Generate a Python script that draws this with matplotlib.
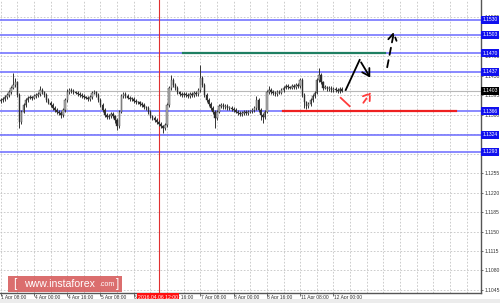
import matplotlib
matplotlib.use("Agg")
import matplotlib.pyplot as plt
from matplotlib.patches import FancyBboxPatch, Rectangle
import numpy as np

# ---------------- data ----------------
first_open = 1.1384
closes = [
    1.1386, 1.1388, 1.1391, 1.1395, 1.1400, 1.1408, 1.1413, 1.1418, 1.1395, 1.1347,
    1.1365, 1.1377, 1.1386, 1.1390, 1.1391, 1.1390, 1.1393, 1.1395, 1.1397, 1.1404,
    1.1400, 1.1395, 1.1386, 1.1381, 1.1377, 1.1372, 1.1368, 1.1365, 1.1363, 1.1359,
    1.1368, 1.1386, 1.1400, 1.1404, 1.1402, 1.1400, 1.1399, 1.1397, 1.1395, 1.1393,
    1.1391, 1.1390, 1.1388, 1.1391, 1.1399, 1.1400, 1.1395, 1.1386, 1.1377, 1.1368,
    1.1359, 1.1356, 1.1357, 1.1361, 1.1357, 1.1350, 1.1339, 1.1365, 1.1393, 1.1397,
    1.1393, 1.1390, 1.1388, 1.1388, 1.1384, 1.1382, 1.1382, 1.1379, 1.1377, 1.1373,
    1.1372, 1.1365, 1.1357, 1.1354, 1.1350, 1.1347, 1.1343, 1.1339, 1.1336, 1.1341,
    1.1377, 1.1408, 1.1422, 1.1413, 1.1408, 1.1400, 1.1397, 1.1395, 1.1397, 1.1395,
    1.1393, 1.1397, 1.1395, 1.1399, 1.1397, 1.1404, 1.1426, 1.1413, 1.1395, 1.1386,
    1.1379, 1.1372, 1.1365, 1.1354, 1.1365, 1.1375, 1.1377, 1.1373, 1.1375, 1.1372,
    1.1372, 1.1370, 1.1368, 1.1365, 1.1363, 1.1361, 1.1363, 1.1365, 1.1363, 1.1365,
    1.1366, 1.1368, 1.1372, 1.1386, 1.1368, 1.1359, 1.1356, 1.1365, 1.1400, 1.1404,
    1.1400, 1.1399, 1.1397, 1.1400, 1.1399, 1.1404, 1.1408, 1.1411, 1.1409, 1.1408,
    1.1411, 1.1409, 1.1413, 1.1411, 1.1422, 1.1395, 1.1382, 1.1375, 1.1379, 1.1386,
    1.1393, 1.1399, 1.1422, 1.1431, 1.1418, 1.1408, 1.1409, 1.1406, 1.1408, 1.1404,
    1.1406, 1.1404, 1.1402, 1.1406, 1.1403,
]
highs = [
    1.1390, 1.1392, 1.1395, 1.1399, 1.1404, 1.1412, 1.1434, 1.1425, 1.1421, 1.1398,
    1.1368, 1.1381, 1.1390, 1.1393, 1.1395, 1.1394, 1.1396, 1.1399, 1.1401, 1.1411,
    1.1407, 1.1403, 1.1398, 1.1389, 1.1384, 1.1380, 1.1375, 1.1371, 1.1368, 1.1366,
    1.1371, 1.1390, 1.1405, 1.1408, 1.1407, 1.1405, 1.1403, 1.1402, 1.1400, 1.1398,
    1.1396, 1.1394, 1.1393, 1.1395, 1.1403, 1.1404, 1.1403, 1.1398, 1.1389, 1.1380,
    1.1371, 1.1362, 1.1361, 1.1365, 1.1364, 1.1360, 1.1353, 1.1368, 1.1397, 1.1401,
    1.1400, 1.1396, 1.1393, 1.1391, 1.1391, 1.1387, 1.1385, 1.1385, 1.1382, 1.1380,
    1.1376, 1.1375, 1.1368, 1.1360, 1.1357, 1.1353, 1.1350, 1.1346, 1.1342, 1.1345,
    1.1381, 1.1412, 1.1431, 1.1425, 1.1416, 1.1411, 1.1403, 1.1400, 1.1401, 1.1400,
    1.1398, 1.1401, 1.1400, 1.1403, 1.1402, 1.1408, 1.1449, 1.1430, 1.1416, 1.1398,
    1.1389, 1.1382, 1.1375, 1.1368, 1.1369, 1.1379, 1.1381, 1.1380, 1.1379, 1.1378,
    1.1375, 1.1375, 1.1373, 1.1371, 1.1368, 1.1366, 1.1366, 1.1368, 1.1368, 1.1368,
    1.1369, 1.1371, 1.1376, 1.1393, 1.1389, 1.1371, 1.1362, 1.1369, 1.1404, 1.1411,
    1.1407, 1.1404, 1.1402, 1.1404, 1.1404, 1.1408, 1.1412, 1.1415, 1.1414, 1.1412,
    1.1415, 1.1414, 1.1417, 1.1416, 1.1426, 1.1425, 1.1398, 1.1385, 1.1383, 1.1390,
    1.1397, 1.1403, 1.1426, 1.1444, 1.1434, 1.1421, 1.1413, 1.1412, 1.1411, 1.1411,
    1.1409, 1.1409, 1.1407, 1.1409, 1.1409,
]
lows = [
    1.1381, 1.1383, 1.1385, 1.1388, 1.1392, 1.1397, 1.1405, 1.1409, 1.1391, 1.1336,
    1.1343, 1.1362, 1.1374, 1.1383, 1.1387, 1.1386, 1.1387, 1.1390, 1.1392, 1.1394,
    1.1397, 1.1392, 1.1383, 1.1378, 1.1374, 1.1368, 1.1364, 1.1361, 1.1359, 1.1354,
    1.1356, 1.1365, 1.1383, 1.1397, 1.1399, 1.1397, 1.1396, 1.1394, 1.1392, 1.1390,
    1.1388, 1.1387, 1.1385, 1.1385, 1.1388, 1.1396, 1.1392, 1.1383, 1.1373, 1.1364,
    1.1355, 1.1352, 1.1352, 1.1354, 1.1353, 1.1345, 1.1332, 1.1336, 1.1362, 1.1390,
    1.1390, 1.1387, 1.1385, 1.1385, 1.1381, 1.1379, 1.1379, 1.1376, 1.1374, 1.1370,
    1.1369, 1.1361, 1.1353, 1.1350, 1.1346, 1.1343, 1.1339, 1.1335, 1.1327, 1.1332,
    1.1338, 1.1374, 1.1404, 1.1409, 1.1404, 1.1396, 1.1393, 1.1391, 1.1392, 1.1392,
    1.1390, 1.1390, 1.1392, 1.1392, 1.1394, 1.1394, 1.1401, 1.1409, 1.1391, 1.1382,
    1.1375, 1.1368, 1.1361, 1.1336, 1.1350, 1.1362, 1.1372, 1.1370, 1.1370, 1.1369,
    1.1369, 1.1367, 1.1365, 1.1362, 1.1360, 1.1358, 1.1358, 1.1360, 1.1360, 1.1360,
    1.1362, 1.1363, 1.1365, 1.1369, 1.1364, 1.1350, 1.1345, 1.1352, 1.1362, 1.1397,
    1.1396, 1.1395, 1.1393, 1.1394, 1.1396, 1.1396, 1.1401, 1.1405, 1.1406, 1.1405,
    1.1405, 1.1406, 1.1406, 1.1408, 1.1408, 1.1391, 1.1372, 1.1370, 1.1372, 1.1376,
    1.1383, 1.1390, 1.1396, 1.1419, 1.1414, 1.1404, 1.1405, 1.1403, 1.1403, 1.1401,
    1.1401, 1.1401, 1.1399, 1.1399, 1.1400,
]
x_tick_pos = [0, 16, 32, 48, 64, 80, 96, 112, 128, 144, 160]
x_tick_labels = ["1 Apr 08:00", "4 Apr 00:00", "4 Apr 16:00", "5 Apr 08:00",
                 "6 Apr 00:00", "6 Apr 16:00", "7 Apr 08:00", "8 Apr 00:00",
                 "8 Apr 16:00", "11 Apr 08:00", "12 Apr 00:00"]
y_ticks = [1.1045, 1.1080, 1.1115, 1.1150, 1.1185, 1.1220, 1.1255, 1.1290,
           1.1325, 1.1360, 1.1395, 1.1430, 1.1465, 1.1500, 1.1535]
levels = [1.1530, 1.1503, 1.1470, 1.1437, 1.1366, 1.1324, 1.1293]
current_price = 1.1403
resistance = 1.1470          # green line
support = 1.1366             # red line
cursor_index = 76
cursor_label = "2016.04.06 12:00"
# forecast arrows (index, price)
black_path = [(165.9, 1.1404), (172.6, 1.1458), (178.4, 1.1422)]
black_dash = [(185.6, 1.1440), (189.4, 1.1514)]
red_seg = [(163.5, 1.1390), (167.8, 1.1375)]
red_dash = [(173.6, 1.1377), (178.8, 1.1404)]

# ---------------- figure ----------------
W, H = 500, 303
FONT = "Liberation Sans"
fig = plt.figure(figsize=(W / 100, H / 100), dpi=100)
fig.patch.set_facecolor("white")
fig.patches.append(Rectangle((0, 0), 1, 4 / H, transform=fig.transFigure,
                             facecolor="#ececec", edgecolor="none", zorder=0))
ax = fig.add_axes([0, 10 / H, 481 / W, 293 / H])
ax.set_facecolor("white")

n = len(closes)
xs = np.arange(n)
opens = [first_open] + closes[:-1]

ax.set_xlim(-0.3, 481 / 2.08 - 0.3)
ax.set_ylim(1.10396, 1.15656)

# grid
for yt in y_ticks:
    ax.axhline(yt, color="#c4c4c4", lw=0.6, ls=(0, (2, 2)), zorder=1)
for xv in range(0, 232, 8):
    ax.axvline(xv, color="#c4c4c4", lw=0.6, ls=(0, (2, 2)), zorder=1)

# level lines
for lv in levels:
    ax.axhline(lv, color="#6a6aff", lw=1.1, zorder=2)
ax.axhline(current_price, color="#b8b8b8", lw=0.8, zorder=2)

# cursor line
ax.axvline(cursor_index, color="#e03030", lw=0.8, zorder=2)

# candles
bull_c = "#b4b4b4"
bear_c = "#2a2a2a"
ax.vlines(xs, lows, highs, color="#333333", lw=0.7, zorder=3)
for i in range(n):
    o, c = opens[i], closes[i]
    lo, hi = min(o, c), max(o, c)
    h = max(hi - lo, 0.00008)
    col = bull_c if c >= o else bear_c
    ax.bar(xs[i], h, bottom=lo, width=0.65, color=col, edgecolor="#333333",
           linewidth=0.3, zorder=4)

# resistance / support segments
ax.plot([87.5, 185], [resistance, resistance], color="#1f7f62", lw=1.6, zorder=5)
ax.plot([135.6, 218.8], [support, support], color="#ee2020", lw=1.6, zorder=5)

# forecast arrows
bx, by = zip(*black_path)
ax.plot(bx[:2], by[:2], color="black", lw=1.3, zorder=6)
ax.annotate("", xy=black_path[2], xytext=black_path[1],
            arrowprops=dict(arrowstyle="->,head_length=0.5,head_width=0.3",
                            color="black", lw=1.3), zorder=6)
ax.annotate("", xy=black_dash[1], xytext=black_dash[0],
            arrowprops=dict(arrowstyle="->,head_length=0.5,head_width=0.3",
                            color="black", lw=1.3, ls=(0, (4, 3))), zorder=6)
rx, ry = zip(*red_seg)
ax.plot(rx, ry, color="#ff3b3b", lw=1.3, zorder=6)
ax.annotate("", xy=red_dash[1], xytext=red_dash[0],
            arrowprops=dict(arrowstyle="->,head_length=0.45,head_width=0.3",
                            color="#ff3b3b", lw=1.3, ls=(0, (3, 2.5))), zorder=6)

# axes styling
for s in ["left", "top"]:
    ax.spines[s].set_visible(False)
for s in ["right", "bottom"]:
    ax.spines[s].set_color("#555555")
    ax.spines[s].set_linewidth(1.0)
ax.yaxis.tick_right()
ax.set_yticks(y_ticks)
ax.set_yticklabels([f"{v:.4f}" for v in y_ticks], fontsize=3.6, color="#333333",
                   family=FONT)
ax.tick_params(axis="y", length=1.5, width=0.5, pad=0.8, colors="#333333")
ax.set_xticks(x_tick_pos)
ax.set_xticklabels([])
ax.tick_params(axis="x", length=2, width=0.5, colors="#333333")
for xp, lab in zip(x_tick_pos, x_tick_labels):
    ax.text(xp + 0.3, -0.006, lab, transform=ax.get_xaxis_transform(),
            fontsize=3.5, color="#333333", ha="left", va="top", clip_on=False,
            family=FONT)

# right-hand level labels
ytr = ax.get_yaxis_transform()
for lv in levels:
    ax.text(1.003, lv, f"{lv:.4f}", transform=ytr, fontsize=3.6, color="white",
            ha="left", va="center", zorder=10, clip_on=False, family=FONT,
            bbox=dict(boxstyle="square,pad=0.3", facecolor="#1010ee",
                      edgecolor="none"))
ax.text(1.003, current_price, f"{current_price:.4f}", transform=ytr, fontsize=3.6,
        color="white", ha="left", va="center", zorder=10, clip_on=False, family=FONT,
        bbox=dict(boxstyle="square,pad=0.3", facecolor="black", edgecolor="none"))

# cursor time label
ax.text(cursor_index - 0.3, -0.006, cursor_label, transform=ax.get_xaxis_transform(),
        fontsize=3.7, color="white", ha="center", va="top", zorder=10, clip_on=False,
        family=FONT,
        bbox=dict(boxstyle="square,pad=0.25", facecolor="#ff1010", edgecolor="none"))

# watermark
fig.patches.append(FancyBboxPatch((8 / W, (303 - 292) / H), 114 / W, 16 / H,
                                  boxstyle="square,pad=0", transform=fig.transFigure,
                                  facecolor="#d65a5a", edgecolor="none", alpha=0.88,
                                  zorder=20))
fig.text(13 / W, (303 - 284) / H, "[", fontsize=8.5, color="white", ha="left",
         va="center", family=FONT, zorder=21)
fig.text(24 / W, (303 - 284) / H, "www.instaforex", fontsize=7.6, color="white",
         ha="left", va="center", family=FONT, zorder=21)
fig.text(99 / W, (303 - 285) / H, ".com", fontsize=5, color="white", ha="left",
         va="center", family=FONT, zorder=21)
fig.text(116 / W, (303 - 284) / H, "]", fontsize=8.5, color="white", ha="left",
         va="center", family=FONT, zorder=21)

fig.savefig("out.png", dpi=100, facecolor="white")
